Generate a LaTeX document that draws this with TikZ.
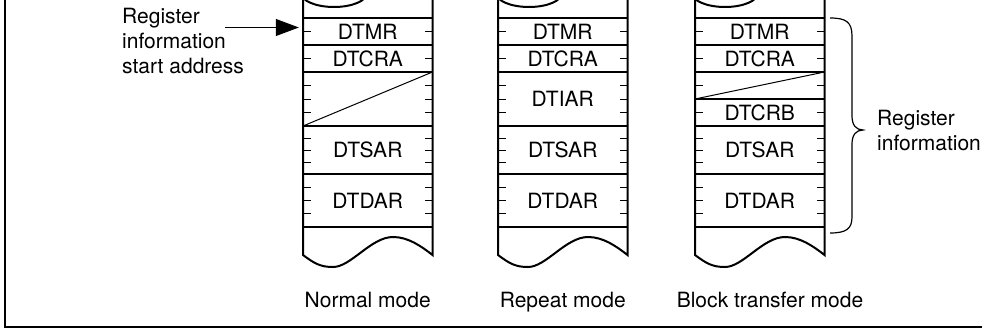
\documentclass[tikz,border=0pt]{standalone}
\usepackage{fontspec}
\setmainfont{TeX Gyre Heros}
\usepackage{tikz}
\usetikzlibrary{arrows.meta,positioning,calc}

\begin{document}
\begin{tikzpicture}[x=1pt, y=-1pt,
  every node/.style={font=\fontsize{21}{25}\selectfont, inner sep=0pt},
  reg/.style={minimum width=129.5pt},
  side/.style={line width=2pt},
  thicksep/.style={line width=2pt},
  thinsep/.style={line width=1.2pt},
  tick/.style={line width=1pt},
  diag/.style={line width=1pt},
  arr/.style={line width=1pt, -{Triangle[length=23pt, width=17pt]}}]
  \useasboundingbox (0,0) rectangle (982,329);
  \clip (0,0) rectangle (982,329);
  % frame
  \draw[line width=2pt] (5,-2) -- (5,327) -- (984,327);

  % normal mode
  \node[reg] (mrA) at (367.75,31.5) {DTMR};
  \node[reg] (craA) at (367.75,58.5) {DTCRA};
  \node[reg] (sarA) at (367.75,150) {DTSAR};
  \node[reg] (darA) at (367.75,200.5) {DTDAR};
  \node[anchor=base] (modeA) at (367.75,307) {Normal mode};
  \draw[side] (334,-7) ellipse [x radius=33, y radius=14];
  \draw[side] (303,0) -- (303,255) .. controls (315,264) and (321,267) .. (333,267)
    .. controls (351,267) and (371,237) .. (393,237) .. controls (408,237) and (421,246) .. (432.5,255) -- (432.5,0);
  \foreach \y in {18,72,126,174,227} \draw[thicksep] (303,\y) -- (432.5,\y);
  \draw[thinsep] (303,45) -- (432.5,45);
  \draw[diag] (303,126) -- (432.5,72);
  \foreach \y in {31.5,58.5,85.5,99,112.5,138,150,162,187.25,200.5,213.75} {
    \draw[tick] (303,\y) -- ++(8,0);
    \draw[tick] (432.5,\y) -- ++(-8,0);
  }

  % repeat mode
  \node[reg] (mrB) at (562.75,31.5) {DTMR};
  \node[reg] (craB) at (562.75,58.5) {DTCRA};
  \node[reg] (iarB) at (562.75,99) {DTIAR};
  \node[reg] (sarB) at (562.75,150) {DTSAR};
  \node[reg] (darB) at (562.75,200.5) {DTDAR};
  \node[anchor=base] (modeB) at (562.75,307) {Repeat mode};
  \draw[side] (529,-7) ellipse [x radius=33, y radius=14];
  \draw[side] (498,0) -- (498,255) .. controls (510,264) and (516,267) .. (528,267)
    .. controls (546,267) and (566,237) .. (588,237) .. controls (603,237) and (616,246) .. (627.5,255) -- (627.5,0);
  \foreach \y in {18,72,126,174,227} \draw[thicksep] (498,\y) -- (627.5,\y);
  \draw[thinsep] (498,45) -- (627.5,45);
  \foreach \y in {31.5,58.5,85.5,99,112.5,138,150,162,187.25,200.5,213.75} {
    \draw[tick] (498,\y) -- ++(8,0);
    \draw[tick] (627.5,\y) -- ++(-8,0);
  }

  % block transfer mode
  \node[reg] (mrC) at (759.75,31.5) {DTMR};
  \node[reg] (craC) at (759.75,58.5) {DTCRA};
  \node[reg] (crbC) at (759.75,112.5) {DTCRB};
  \node[reg] (sarC) at (759.75,150) {DTSAR};
  \node[reg] (darC) at (759.75,200.5) {DTDAR};
  \node[anchor=base] (modeC) at (770,307) {Block transfer mode};
  \draw[side] (725,-7) ellipse [x radius=33, y radius=14];
  \draw[side] (695,0) -- (695,255) .. controls (707,264) and (713,267) .. (725,267)
    .. controls (743,267) and (763,237) .. (785,237) .. controls (800,237) and (813,246) .. (824.5,255) -- (824.5,0);
  \foreach \y in {18,72,126,174,227} \draw[thicksep] (695,\y) -- (824.5,\y);
  \foreach \y in {45,99} \draw[thinsep] (695,\y) -- (824.5,\y);
  \draw[diag] (695,99) -- (824.5,72);
  \foreach \y in {31.5,58.5,85.5,112.5,138,150,162,187.25,200.5,213.75} {
    \draw[tick] (695,\y) -- ++(8,0);
    \draw[tick] (824.5,\y) -- ++(-8,0);
  }

  % labels
  \node[align=left, anchor=north west] (startLbl) at (122,8) {Register\\information\\start address};
  \coordinate (arrowStart) at (225,27.5);
  \draw[arr, shorten >=4pt] (arrowStart) -- (arrowStart -| mrA.west);
  \draw[line width=1.2pt] (830,18) .. controls (846,18) and (852,22) .. (852,36) -- (852,116)
    .. controls (852,125) and (856,130) .. (863,130) .. controls (856,130) and (852,135) .. (852,144)
    -- (852,217) .. controls (852,229) and (846,233) .. (830,233);
  \node[align=left, anchor=north west] (infoLbl) at (877,110) {Register\\information};
\end{tikzpicture}
\end{document}
